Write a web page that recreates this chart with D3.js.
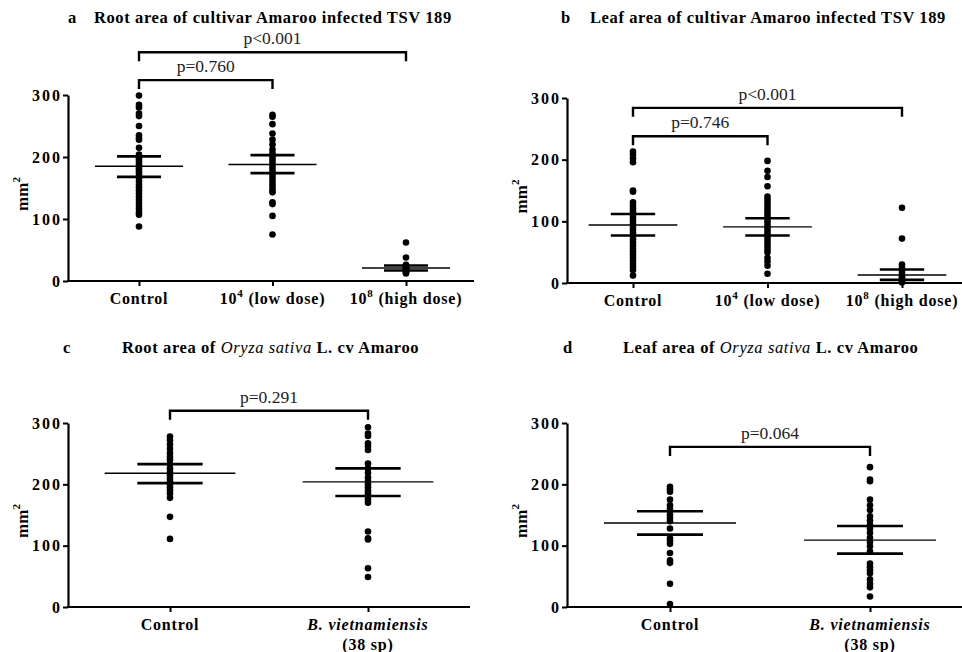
<!DOCTYPE html>
<html>
<head>
<meta charset="utf-8">
<script src="https://cdn.jsdelivr.net/npm/d3@7"></script>
<style>
  body { margin: 0; background: #fff; }
  svg { display: block; }
  text { font-family: "Liberation Serif", "Times New Roman", serif; }
  .ttl { font-weight: bold; font-size: 16.5px; letter-spacing: 0.6px; }
  .tick text { font-weight: bold; font-size: 16px; letter-spacing: 2px; }
  .xl { font-weight: bold; font-size: 16px; letter-spacing: 0.8px; }
  .yl { font-weight: bold; font-size: 17px; }
  .pv { font-size: 17.5px; fill: #222; }
</style>
</head>
<body>
<script>
width = 962;
height = 652;

// category labels
const tsvCats = ["Control", "low", "high"];
const bvCats = ["Control", "bv"];

// panel a: root area, TSV 189
const rootTsvControl = [299, 284, 280, 270, 266, 250, 235, 231, 228, 215, 204, 199, 196, 192, 188, 185, 182, 178, 175, 171, 166, 161, 156, 151, 146, 141, 136, 131, 126, 121, 116, 111, 107, 88];
const rootTsvLow = [268, 265, 253, 238, 228, 220, 212, 206, 201, 196, 191, 186, 181, 176, 171, 166, 161, 156, 151, 146, 143, 127, 124, 105, 75];
const rootTsvHigh = [62, 38, 26, 24, 22, 21, 20, 19, 18, 17, 16, 15, 14, 12];
const rootTsvMean = [185, 188, 21];
const rootTsvSem = [[168, 201], [174, 203], [17, 25]];

// panel b: leaf area, TSV 189
const leafTsvControl = [213, 208, 202, 196, 150, 148, 131, 126, 121, 116, 111, 106, 101, 96, 91, 86, 81, 76, 71, 66, 61, 56, 51, 46, 41, 36, 31, 26, 21, 12];
const leafTsvLow = [198, 182, 172, 157, 140, 135, 130, 125, 120, 115, 110, 105, 100, 95, 90, 85, 80, 75, 70, 65, 60, 55, 50, 41, 35, 28, 15];
const leafTsvHigh = [122, 72, 30, 25, 20, 15, 12, 10, 8, 5, 3, 1];
const leafTsvMean = [94, 91, 13];
const leafTsvSem = [[77, 112], [77, 105], [5, 22]];

// panel c: root area, B. vietnamiensis
const rootBvControl = [278, 272, 265, 258, 251, 245, 240, 233, 226, 220, 215, 210, 205, 200, 195, 190, 185, 178, 147, 111];
const rootBvTreated = [293, 283, 279, 267, 262, 256, 234, 226, 219, 211, 205, 200, 195, 190, 185, 180, 175, 170, 123, 112, 110, 63, 49];
const rootBvMean = [218, 204];
const rootBvSem = [[202, 233], [181, 226]];

// panel d: leaf area, B. vietnamiensis
const leafBvControl = [196, 192, 188, 175, 166, 160, 155, 150, 145, 140, 128, 112, 108, 103, 88, 76, 72, 38, 5];
const leafBvTreated = [228, 208, 205, 175, 166, 158, 148, 141, 134, 128, 121, 113, 106, 99, 91, 71, 65, 60, 55, 45, 38, 32, 17];
const leafBvMean = [137, 109];
const leafBvSem = [[118, 156], [87, 132]];

const yTicks = [0, 100, 200, 300];

const panels = [
  {letter: "a", title: [["Root area of cultivar Amaroo infected TSV 189", false]],
   cats: tsvCats, values: [rootTsvControl, rootTsvLow, rootTsvHigh], mean: rootTsvMean, sem: rootTsvSem,
   tests: [{a: 0, b: 2, p: "p<0.001", lvl: 369}, {a: 0, b: 1, p: "p=0.760", lvl: 324}],
   frame: {ax: 68, right: 474, top: 95, bottom: 281, c0: 139, c1: 406, letterX: 68, titleX: 94, titleY: 23}},
  {letter: "b", title: [["Leaf area of cultivar Amaroo infected TSV 189", false]],
   cats: tsvCats, values: [leafTsvControl, leafTsvLow, leafTsvHigh], mean: leafTsvMean, sem: leafTsvSem,
   tests: [{a: 0, b: 2, p: "p<0.001", lvl: 284}, {a: 0, b: 1, p: "p=0.746", lvl: 238}],
   frame: {ax: 567, right: 962, top: 98, bottom: 283, c0: 633, c1: 902, letterX: 561, titleX: 590, titleY: 23}},
  {letter: "c", title: [["Root area of ", false], ["Oryza sativa", true], [" L. cv Amaroo", false]],
   cats: bvCats, values: [rootBvControl, rootBvTreated], mean: rootBvMean, sem: rootBvSem,
   tests: [{a: 0, b: 1, p: "p=0.291", lvl: 320}],
   frame: {ax: 68, right: 470, top: 423, bottom: 607, c0: 170, c1: 368, letterX: 63, titleX: 122, titleY: 353}},
  {letter: "d", title: [["Leaf area of ", false], ["Oryza sativa", true], [" L. cv Amaroo", false]],
   cats: bvCats, values: [leafBvControl, leafBvTreated], mean: leafBvMean, sem: leafBvSem,
   tests: [{a: 0, b: 1, p: "p=0.064", lvl: 261}],
   frame: {ax: 567, right: 962, top: 423, bottom: 607, c0: 670, c1: 870, letterX: 563, titleX: 623, titleY: 353}}
];

const svg = d3.select("body").append("svg")
    .attr("width", width)
    .attr("height", height);

function xLabel(g, cat, cx, y0){
    let t = g.append("text").attr("class", "xl").attr("text-anchor", "middle")
        .attr("x", cx).attr("y", y0 + 23);
    if (cat == "Control") {
        t.text("Control");
    } else if (cat == "low" || cat == "high") {
        t.append("tspan").text("10");
        t.append("tspan").attr("font-size", "11px").attr("dy", -7).text(cat == "low" ? "4" : "8");
        t.append("tspan").attr("dy", 7).text(cat == "low" ? " (low dose)" : " (high dose)");
    } else {
        t.append("tspan").attr("font-style", "italic").text("B. vietnamiensis");
        g.append("text").attr("class", "xl").attr("text-anchor", "middle")
            .attr("x", cx).attr("y", y0 + 43).text("(38 sp)");
    }
}

function drawPanel(p){
    const f = p.frame;
    const g = svg.append("g");

    let x = d3.scalePoint().domain(p.cats).range([f.c0, f.c1]);
    let y = d3.scaleLinear().domain([0, 300]).range([f.bottom, f.top]);
    const step = x.step();

    // title
    g.append("text").attr("class", "ttl").attr("x", f.letterX).attr("y", f.titleY).text(p.letter);
    let tt = g.append("text").attr("class", "ttl").attr("x", f.titleX).attr("y", f.titleY);
    p.title.forEach(s => {
        tt.append("tspan").attr("font-style", s[1] ? "italic" : null)
            .attr("font-weight", s[1] ? "normal" : null).text(s[0]);
    });

    // y axis
    let ya = g.append("g").attr("transform", `translate(${f.ax},0)`)
        .call(d3.axisLeft(y).tickValues(yTicks).tickSize(5).tickSizeOuter(0).tickPadding(1));
    ya.select(".domain").attr("stroke-width", 2.2);
    ya.selectAll(".tick line").attr("stroke-width", 2);
    ya.selectAll(".tick text").attr("fill", "#000");

    // x axis
    g.append("line").attr("x1", f.ax - 1).attr("x2", f.right)
        .attr("y1", f.bottom).attr("y2", f.bottom)
        .attr("stroke", "#000").attr("stroke-width", 2.2);
    let xa = g.append("g").attr("transform", `translate(0,${f.bottom})`)
        .call(d3.axisBottom(x).tickSize(5).tickFormat(""));
    xa.select(".domain").remove();
    xa.selectAll(".tick line").attr("stroke-width", 2);
    p.cats.forEach(c => xLabel(g, c, x(c), f.bottom));

    // y label
    let yl = g.append("text").attr("class", "yl")
        .attr("transform", `translate(${f.ax - 40},${(f.top + f.bottom) / 2 + 6}) rotate(-90)`)
        .attr("text-anchor", "middle");
    yl.append("tspan").text("mm");
    yl.append("tspan").attr("font-size", "11px").attr("dy", -8).text("2");

    // dots
    p.cats.forEach((c, i) => {
        g.selectAll(null).data(p.values[i]).enter()
            .append("circle")
            .attr("cx", x(c))
            .attr("cy", d => y(d))
            .attr("r", 3.3)
            .attr("fill", "#000");
    });

    // mean and SEM
    p.cats.forEach((c, i) => {
        g.append("line").attr("x1", x(c) - step * 0.33).attr("x2", x(c) + step * 0.33)
            .attr("y1", y(p.mean[i])).attr("y2", y(p.mean[i]))
            .attr("stroke", "#000").attr("stroke-width", 1.4);
        p.sem[i].forEach(v => {
            g.append("line").attr("x1", x(c) - step * 0.165).attr("x2", x(c) + step * 0.165)
                .attr("y1", y(v)).attr("y2", y(v))
                .attr("stroke", "#000").attr("stroke-width", 2.6);
        });
    });

    // significance brackets
    p.tests.forEach(t => {
        let xa1 = x(p.cats[t.a]), xb1 = x(p.cats[t.b]), yy = y(t.lvl);
        g.append("path")
            .attr("d", `M${xa1},${yy + 9}V${yy}H${xb1}V${yy + 9}`)
            .attr("fill", "none").attr("stroke", "#000").attr("stroke-width", 2.4);
        g.append("text").attr("class", "pv").attr("text-anchor", "middle")
            .attr("x", (xa1 + xb1) / 2).attr("y", yy - 8).text(t.p);
    });
}

panels.forEach(drawPanel);
</script>
</body>
</html>
